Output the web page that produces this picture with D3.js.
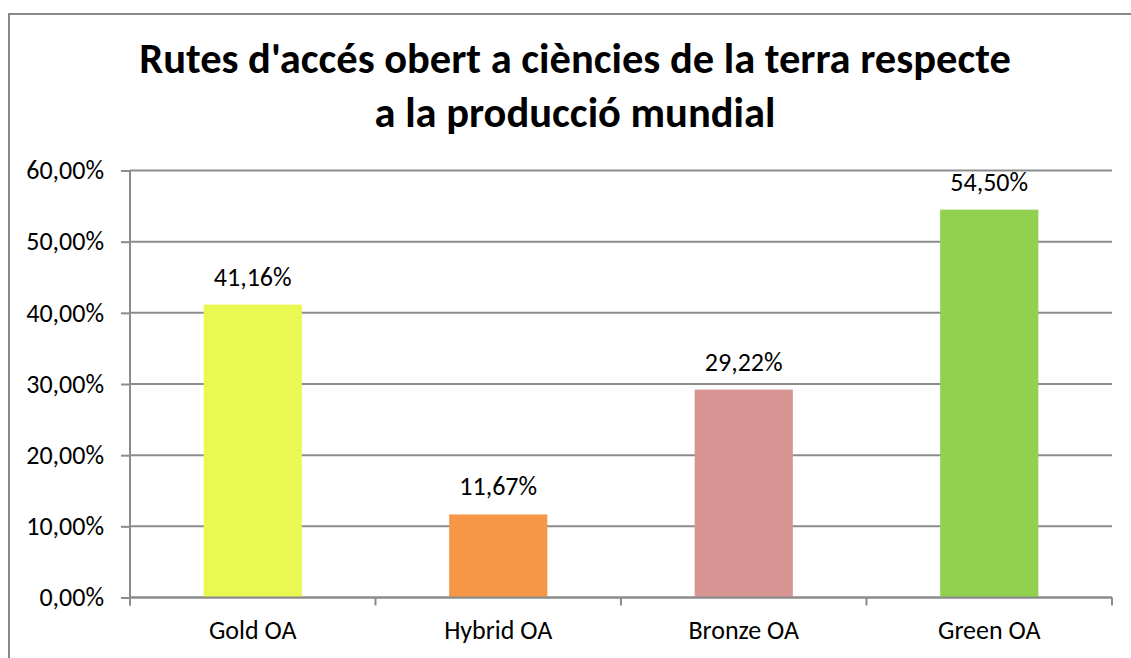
<!DOCTYPE html>
<html>
<head>
<meta charset="utf-8">
<script src="https://cdn.jsdelivr.net/npm/d3@7"></script>
<style>
  body { margin: 0; background: #fff; }
  svg text { font-family: Carlito, Calibri, "Open Sans", sans-serif; fill: #000; }
</style>
</head>
<body>
<svg id="chart" width="1131" height="658"></svg>
<script>
// data
var categories = ["Gold OA", "Hybrid OA", "Bronze OA", "Green OA"];
var values = [41.16, 11.67, 29.22, 54.50];
var barColors = ["#eaf852", "#f79646", "#d99594", "#92d050"];
var yTicks = [0, 10, 20, 30, 40, 50, 60];
var titleLines = ["Rutes d'accés obert a ciències de la terra respecte", "a la producció mundial"];

var width = 1131, height = 658;
var margin = {top: 170.5, right: 19, bottom: 60.5, left: 130};
var labelSize = 26;

var svg = d3.select("#chart");

// outer frame (cropped on the right and bottom like the original)
svg.append("path")
  .attr("d", "M9," + height + "V14H" + width)
  .attr("fill", "none")
  .attr("stroke", "#888")
  .attr("stroke-width", 2);

var locale = d3.formatLocale({decimal: ",", thousands: ".", grouping: [3], currency: ["", "€"]});
var fmt = locale.format(".2f");
function pct(d) { return fmt(d) + "%"; }

var x = d3.scaleBand()
  .domain(categories)
  .range([margin.left, width - margin.right])
  .paddingInner(0.6)
  .paddingOuter(0.3);

var y = d3.scaleLinear()
  .domain([0, 60])
  .range([height - margin.bottom, margin.top]);

// gridlines
svg.append("g")
  .selectAll("line")
  .data(yTicks)
  .enter()
    .append("line")
    .attr("x1", margin.left)
    .attr("x2", width - margin.right)
    .attr("y1", function(d) { return y(d); })
    .attr("y2", function(d) { return y(d); })
    .attr("stroke", "#8c8c8c")
    .attr("stroke-width", 2);

// bars
svg.append("g")
  .selectAll("rect")
  .data(values)
  .enter()
    .append("rect")
    .attr("x", function(d, i) { return x(categories[i]); })
    .attr("width", x.bandwidth())
    .attr("y", function(d) { return y(d); })
    .attr("height", function(d) { return y(0) - y(d); })
    .attr("fill", function(d, i) { return barColors[i]; });

// value labels
svg.append("g")
  .selectAll("text")
  .data(values)
  .enter()
    .append("text")
    .attr("x", function(d, i) { return x(categories[i]) + x.bandwidth() / 2; })
    .attr("y", function(d) { return y(d) - 19; })
    .attr("text-anchor", "middle")
    .attr("font-size", labelSize)
    .text(pct);

// y axis
var yAxis = svg.append("g")
  .attr("transform", "translate(" + margin.left + ",0)")
  .call(d3.axisLeft(y).tickValues(yTicks).tickSize(9).tickPadding(17).tickFormat(pct));
yAxis.select(".domain").remove();
yAxis.selectAll(".tick line").attr("stroke", "#8c8c8c").attr("stroke-width", 2);
yAxis.selectAll(".tick text").attr("font-size", labelSize).attr("fill", "#000");
yAxis.attr("font-family", null).attr("font-size", null);

// x axis, ticks between the categories
var xEdge = d3.scaleLinear().domain([0, categories.length]).range([margin.left, width - margin.right]);
var xAxis = svg.append("g")
  .attr("transform", "translate(0," + y(0) + ")");
xAxis.append("line")
  .attr("x1", margin.left).attr("x2", width - margin.right)
  .attr("stroke", "#8c8c8c").attr("stroke-width", 2);
xAxis.append("line")
  .attr("x1", margin.left).attr("x2", margin.left)
  .attr("y1", y(60) - y(0)).attr("y2", 8)
  .attr("stroke", "#8c8c8c").attr("stroke-width", 2);
xAxis.selectAll(".xtick")
  .data(d3.range(categories.length + 1))
  .enter()
    .append("line")
    .attr("class", "xtick")
    .attr("x1", function(d) { return xEdge(d); })
    .attr("x2", function(d) { return xEdge(d); })
    .attr("y1", 0).attr("y2", 8)
    .attr("stroke", "#8c8c8c").attr("stroke-width", 2);
xAxis.selectAll(".xlab")
  .data(categories)
  .enter()
    .append("text")
    .attr("class", "xlab")
    .attr("x", function(d) { return x(d) + x.bandwidth() / 2; })
    .attr("y", 41)
    .attr("text-anchor", "middle")
    .attr("font-size", labelSize)
    .text(function(d) { return d; });

// title
svg.append("text")
  .attr("text-anchor", "middle")
  .attr("font-size", 42.5)
  .attr("font-weight", "bold")
  .selectAll("tspan")
  .data(titleLines)
  .enter()
    .append("tspan")
    .attr("x", 575)
    .attr("y", function(d, i) { return 73 + i * 53.5; })
    .text(function(d) { return d; });
</script>
</body>
</html>
